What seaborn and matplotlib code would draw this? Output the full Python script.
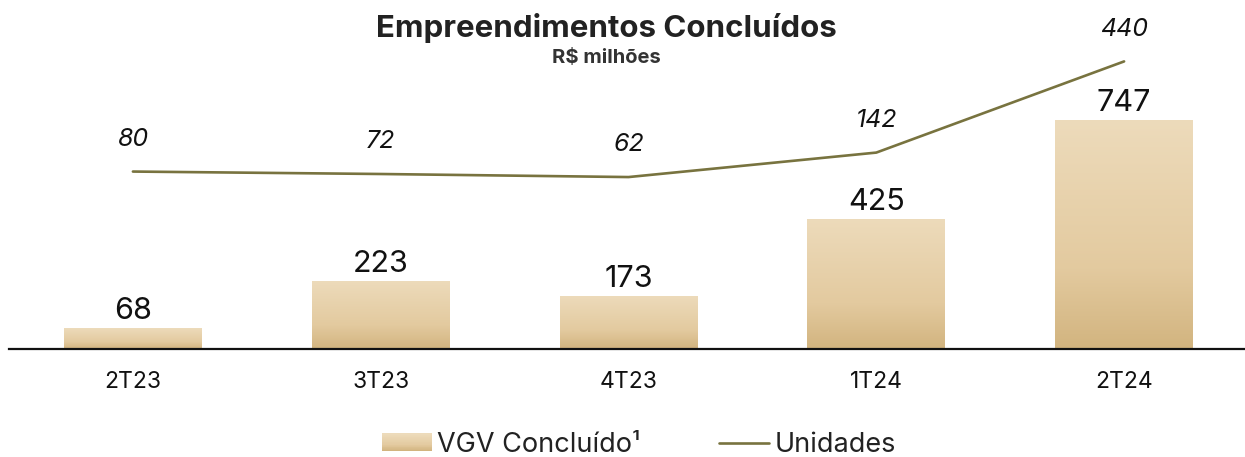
import numpy as np
import pandas as pd
import matplotlib
matplotlib.use("Agg")
import matplotlib.pyplot as plt
import seaborn as sns
from matplotlib.colors import LinearSegmentedColormap
from matplotlib.patches import Rectangle
from matplotlib.lines import Line2D
from matplotlib.legend_handler import HandlerBase

categories = ["2T23", "3T23", "4T23", "1T24", "2T24"]
vgv = [68, 223, 173, 425, 747]
unidades = [80, 72, 62, 142, 440]

title = "Empreendimentos Concluídos"
subtitle = "R$ milhões"
bar_label = "VGV Concluído¹"
line_label = "Unidades"

sns.set_theme(style="white")
plt.rcParams["font.family"] = ["Inter", "DejaVu Sans"]

line_color = "#78733F"
cmap = LinearSegmentedColormap.from_list(
    "gold", [(0.0, "#D2B47F"), (0.35, "#E3CA9F"), (1.0, "#EDDBBB")])

df = pd.DataFrame({"cat": categories, "vgv": vgv, "uni": unidades})

fig = plt.figure(figsize=(12.45, 4.57), dpi=100)
ax = fig.add_axes([9 / 1245, 1 - 349 / 457, 1239 / 1245, 309 / 457])

sns.barplot(data=df, x="cat", y="vgv", ax=ax, width=0.556, color="#E3CBA0",
            saturation=1)
ax.set_xlim(-0.5, len(categories) - 0.5)
ax.set_ylim(0, 1008)

grad = np.linspace(0, 1, 256).reshape(-1, 1)
for p in list(ax.patches):
    x0, y0 = p.get_x(), p.get_y()
    w, h = p.get_width(), p.get_height()
    im = ax.imshow(grad, extent=(x0, x0 + w, y0, y0 + h), origin="lower",
                   cmap=cmap, aspect="auto", zorder=p.get_zorder())
    im.set_clip_path(p)
    p.set_facecolor("none")
    p.set_edgecolor("none")
    ax.annotate(f"{int(round(h))}", (x0 + w / 2, y0 + h), xytext=(0, 2),
                textcoords="offset points", ha="center", va="bottom",
                fontsize=22, color="#111111")

ax2 = ax.twinx()
xpos = np.arange(len(categories))
sns.lineplot(x=xpos, y=unidades, ax=ax2, color=line_color, linewidth=1.9)
ax2.set_ylim(-500, 510)
for xi, v in zip(xpos, unidades):
    ax2.annotate(f"{v}", (xi, v), xytext=(0, 15), textcoords="offset points",
                 ha="center", va="bottom", fontsize=18, style="italic",
                 color="#111111")

for a in (ax, ax2):
    for s in ("top", "right", "left"):
        a.spines[s].set_visible(False)
    a.set_yticks([])
    a.set_ylabel("")
    a.set_xlabel("")
ax2.spines["bottom"].set_visible(False)
ax2.tick_params(axis="x", bottom=False, labelbottom=False)
ax.spines["bottom"].set_color("#111111")
ax.spines["bottom"].set_linewidth(1.6)
ax.set_xticks(xpos)
ax.set_xticklabels(categories)
ax.set_xlim(-0.5, len(categories) - 0.5)
ax.set_ylim(0, 1008)
ax.tick_params(axis="x", length=0, pad=16, labelsize=16.5, colors="#111111",
               labelbottom=True, bottom=True)

fig.text(606 / 1245, 1 - 28 / 457, title, ha="center", va="center",
         fontsize=22.5, fontweight="bold", color="#222222")
fig.text(606 / 1245, 1 - 58 / 457, subtitle, ha="center", va="center",
         fontsize=14.5, fontweight="bold", color="#333333")


class GradHandler(HandlerBase):
    def create_artists(self, legend, orig_handle, xdescent, ydescent,
                       width, height, fontsize, trans):
        n = 24
        arts = []
        for i in range(n):
            r = Rectangle((-xdescent, -ydescent + i * height / n), width,
                          height / n + 0.3, facecolor=cmap(i / (n - 1)),
                          edgecolor="none", transform=trans)
            arts.append(r)
        return arts


bar_handle = Rectangle((0, 0), 1, 1)
line_handle = Line2D([0], [0], color=line_color, linewidth=1.9)
fig.legend([bar_handle, line_handle], [bar_label, line_label],
           handler_map={Rectangle: GradHandler()},
           loc="center", bbox_to_anchor=(639 / 1245, 1 - 445 / 457),
           ncol=2, frameon=False, fontsize=19.5, handlelength=1.85,
           handleheight=0.6, handletextpad=0.2, columnspacing=2.9,
           labelcolor="#222222")

fig.savefig("out.png", dpi=100)
